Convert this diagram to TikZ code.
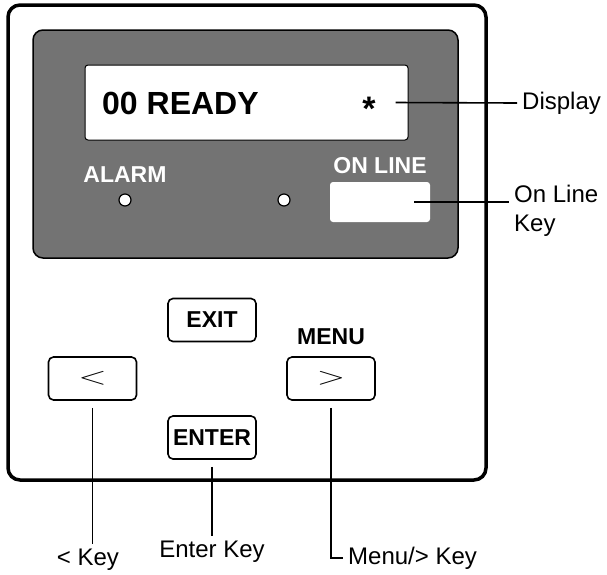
\documentclass[tikz,border=0pt]{standalone}
\usepackage{fontspec}
\setmainfont{Liberation Sans}
\usetikzlibrary{positioning}

\begin{document}
\begin{tikzpicture}[x=1pt,y=-1pt,
  key/.style={draw, line width=1.6pt, rounded corners=5pt, minimum width=88pt, minimum height=43pt, inner sep=0pt, font=\fontsize{23}{23}\selectfont\bfseries},
  led/.style={circle, draw, fill=white, line width=1.2pt, minimum size=12pt, inner sep=0pt},
  paneltext/.style={text=white, inner sep=0pt, font=\fontsize{23}{23}\selectfont\bfseries},
  callout/.style={inner sep=5pt, font=\fontsize{24}{29}\selectfont},
  leader/.style={line width=1.6pt}]
\useasboundingbox (0,0) rectangle (607,574);
\draw[line width=3.5pt, rounded corners=12pt] (8,5) rectangle (486,480);
\draw[fill=black!55, line width=1.5pt, rounded corners=10pt] (33,30) rectangle (458,258);
\node[draw, fill=white, line width=1pt, rounded corners=3pt, minimum width=323pt, minimum height=75pt] (disp) at (246.5,102.5) {};
\node[anchor=west, inner sep=0pt, font=\fontsize{32}{32}\selectfont\bfseries] (ready) at (102,103.5) {00 READY};
\node[inner sep=0pt, font=\fontsize{34}{34}\selectfont\bfseries] (star) at (369,109) {*};
\node[paneltext] (alarm) at (125,175) {ALARM};
\node[led] (alarmled) at (125,200) {};
\node[led] (onled) at (284,200) {};
\node[paneltext] (online) at (380,166) {ON LINE};
\node[fill=white, rounded corners=3pt, minimum width=100pt, minimum height=40pt] (onkey) at (380,202) {};
\node[key] (exit) at (212,320) {EXIT};
\node[key] (left) at (92.5,378.5) {\fontsize{30}{30}\selectfont\scalebox{1.5}[1]{$<$}};
\node[key] (right) at (331,378.5) {\fontsize{30}{30}\selectfont\scalebox{1.5}[1]{$>$}};
\node[above=11pt of right, inner sep=0pt, font=\fontsize{23}{23}\selectfont\bfseries] (menu) {MENU};
\node[key] (enter) at (212,437.5) {ENTER};
\node[callout, anchor=west] (lbldisp) at (517,103) {Display};
\node[callout, anchor=west, align=left] (lblonline) at (509,211) {On Line\\Key};
\node[callout] (lblleft) at (88,560) {< Key};
\node[callout] (lblenter) at (212,552) {Enter Key};
\node[callout, anchor=west] (lblmenu) at (343,558) {Menu/> Key};
\draw[leader] ([xshift=-13pt]disp.east) -- (lbldisp.west);
\draw[leader] ([xshift=-16pt]onkey.east) -- (onkey.east -| lblonline.west);
\draw[leader] ([yshift=-7pt]left.south) -- (left.south |- lblleft.north);
\draw[leader] ([yshift=-7pt]enter.south) -- (enter.south |- lblenter.north);
\draw[leader] ([yshift=-7pt]right.south) |- (lblmenu.west);
\end{tikzpicture}
\end{document}
